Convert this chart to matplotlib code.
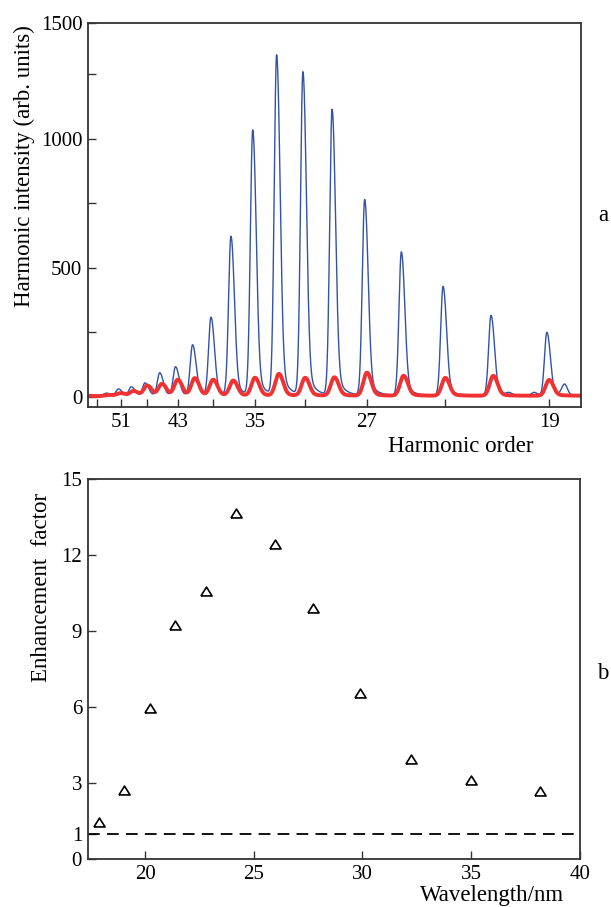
import numpy as np
import matplotlib
matplotlib.use("Agg")
import matplotlib.pyplot as plt
from matplotlib.ticker import NullLocator

plt.rcParams['font.family'] = ['Liberation Serif', 'DejaVu Serif']

# ---- panel a: harmonic spectra, peak heights read at each odd order ----
orders = [19, 21, 23, 25, 27, 29, 31, 33, 35, 37, 39, 41, 43, 45, 47, 49, 51, 53, 55]
blue_peaks = [250, 316, 428, 561, 763, 1111, 1255, 1320, 1030, 620,
              307, 201, 116, 93, 54, 39, 31, 15, 8]
red_peaks = [66, 82, 74, 82, 94, 76, 74, 89, 74, 63,
             66, 72, 66, 50, 44, 23, 15, 8, 3]
# weak satellite features in the blue trace
blue_small_orders = [20.4, 19.5, 18.5]
blue_small_peaks = [15, 18, 48]

order_ticks = [55, 51, 47, 43, 39, 35, 31, 27, 23, 19]
order_labels = ['', '51', '', '43', '', '35', '', '27', '', '19']

# ---- panel b: enhancement factor ----
wavelength = [17.88, 19.01, 20.21, 21.36, 22.79, 24.20, 25.97, 27.73, 29.90, 32.23, 35.00, 38.15]
enhancement = [1.47, 2.72, 5.95, 9.24, 10.58, 13.65, 12.44, 9.9, 6.54, 3.95, 3.12, 2.68]

# spectrometer axis is roughly linear in order**-0.6
K = 0.6
def fwd(q):
    return -np.maximum(np.abs(q), 1e-9) ** -K
def inv(u):
    return np.maximum(np.abs(u), 1e-9) ** (-1 / K)

q_lo, q_hi = 18.0, 56.7
s_grid = np.linspace(q_hi ** -K, q_lo ** -K, 5000)
q_grid = s_grid ** (-1 / K)

def peak(s0, h, wl, wr, tail, tail_w):
    d = s_grid - s0
    g = np.where(d < 0, np.exp(-0.5 * (d / wl) ** 2), np.exp(-0.5 * (d / wr) ** 2))
    t = np.where(d > 0, tail * np.exp(-d / tail_w) * (1 - np.exp(-(d / wr) ** 2)), 0.0)
    return h * (g + t)

blue_base, red_base = 6, 5
blue = np.full_like(s_grid, blue_base, dtype=float)
red = np.full_like(s_grid, red_base, dtype=float)
for q, hb, hr in zip(orders, blue_peaks, red_peaks):
    s0 = q ** -K
    blue += peak(s0 - 0.0004, hb - blue_base, 0.00042, 0.00058, 0.14, 0.0012)
    red += peak(s0, hr - red_base, 0.00062, 0.0007, 0.18, 0.0013)
for q, hb in zip(blue_small_orders, blue_small_peaks):
    blue += peak(q ** -K, hb - blue_base, 0.0005, 0.0005, 0.0, 0.001)

fig = plt.figure(figsize=(6.11, 9.07), dpi=100)
ax1 = fig.add_axes([0.1440, 0.5509, 0.8064, 0.4240])
ax2 = fig.add_axes([0.1434, 0.0529, 0.8054, 0.4190])

ax1.plot(q_grid, blue, color='#3352a8', lw=1.0)
ax1.plot(q_grid, red, color='#f03232', lw=2.8, solid_joinstyle='round')
ax1.set_xscale('function', functions=(fwd, inv))
ax1.set_xlim(q_hi, q_lo)
ax1.set_xticks(order_ticks)
ax1.set_xticklabels(order_labels)
ax1.xaxis.set_minor_locator(NullLocator())
y_top = 1448
ax1.set_ylim(-40, y_top)
ax1.set_yticks([0, 500, 1000, y_top])
ax1.set_yticklabels(['0', '500', '1000', '1500'])
ax1.set_yticks([250, 750, 1250], minor=True)

ax2.plot(wavelength, enhancement, linestyle='none',
         marker=[(-1, -0.8), (1, -0.8), (0, 0.8), (-1, -0.8)],
         ms=8, mfc='none', mec='black', mew=1.2)
ax2.axhline(1, color='black', lw=1.3, dashes=(6.5, 4))
ax2.set_xlim(17.35, 40)
ax2.set_ylim(0, 15)
ax2.set_xticks([20, 25, 30, 35, 40])
ax2.set_yticks([0, 1, 3, 6, 9, 12, 15])

for ax in (ax1, ax2):
    for sp in ax.spines.values():
        sp.set_color('#333333')
        sp.set_linewidth(1.3)
    ax.tick_params(which='both', direction='in', length=6, width=1.0,
                   color='#333333', labelsize=15, pad=4, top=False, right=False)

W, H = 611, 907
fig.text(24 / W, 1 - 166 / H, 'Harmonic intensity (arb. units)', rotation=90,
         ha='center', va='center', fontsize=16.5)
fig.text(461 / W, 1 - 452 / H, 'Harmonic order', ha='center', va='baseline', fontsize=16.5)
fig.text(603 / W, 1 - 221 / H, 'a', ha='center', va='baseline', fontsize=16.5)
fig.text(42 / W, 1 - 587 / H, 'Enhancement  factor', rotation=90,
         ha='center', va='center', fontsize=16.5)
fig.text(492 / W, 1 - 901 / H, 'Wavelength/nm', ha='center', va='baseline', fontsize=16.5)
fig.text(603 / W, 1 - 679 / H, 'b', ha='center', va='baseline', fontsize=16.5)

fig.savefig('out.png', dpi=100)
